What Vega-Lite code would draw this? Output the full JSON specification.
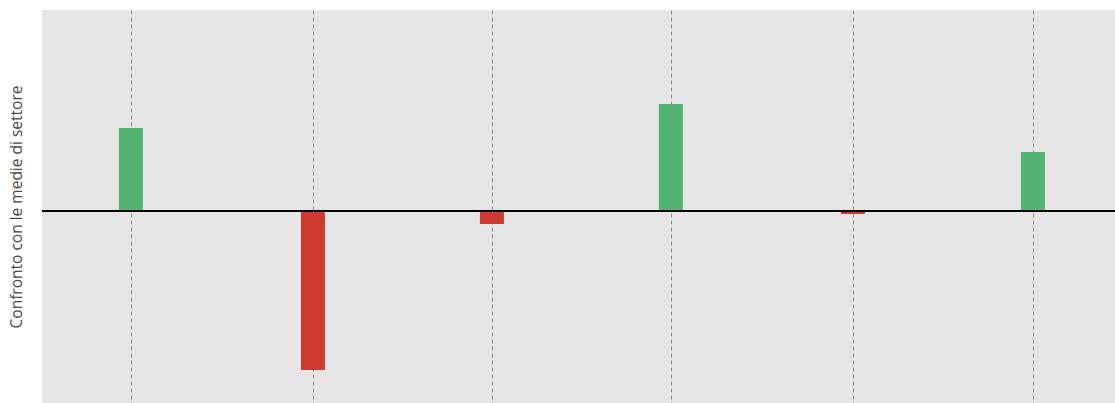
{
  "$schema": "https://vega.github.io/schema/vega-lite/v6.json",
  "width": 1073,
  "height": 393,
  "autosize": {"type": "none"},
  "padding": {"left": 42, "top": 10, "right": 0, "bottom": 0},
  "background": "white",
  "config": {
    "view": {"fill": "#e5e5e5", "stroke": null},
    "font": "Open Sans"
  },
  "data": {
    "values": [
      {"pos": 0, "value": 83},
      {"pos": 1.009, "value": -159},
      {"pos": 2.001, "value": -13},
      {"pos": 2.993, "value": 107},
      {"pos": 4.002, "value": -3},
      {"pos": 5, "value": 59}
    ]
  },
  "layer": [
    {
      "mark": {"type": "bar", "width": 24},
      "encoding": {
        "x": {
          "field": "pos",
          "type": "quantitative",
          "scale": {"domain": [-0.493, 5.455], "nice": false, "zero": false, "padding": 0},
          "axis": {
            "values": [0, 1.009, 2.001, 2.993, 4.002, 5],
            "grid": true,
            "gridDash": [4, 3],
            "gridColor": "#8a8a8a",
            "gridWidth": 1,
            "gridOpacity": 1,
            "labels": false,
            "ticks": false,
            "domain": false,
            "title": null
          }
        },
        "y": {
          "field": "value",
          "type": "quantitative",
          "scale": {"domain": [-192, 201], "nice": false},
          "axis": {
            "grid": false,
            "labels": false,
            "ticks": false,
            "domain": false,
            "title": "Confronto con le medie di settore",
            "titleFont": "Open Sans",
            "titleFontSize": 15.5,
            "titleFontWeight": "normal",
            "titleColor": "#4a4a4a",
            "titlePadding": 18
          }
        },
        "color": {
          "condition": {"test": "datum.value > 0", "value": "#52b372"},
          "value": "#cc3b2d"
        }
      }
    },
    {
      "mark": {"type": "rule", "color": "black", "strokeWidth": 2},
      "encoding": {"y": {"datum": 0, "type": "quantitative"}}
    }
  ]
}
